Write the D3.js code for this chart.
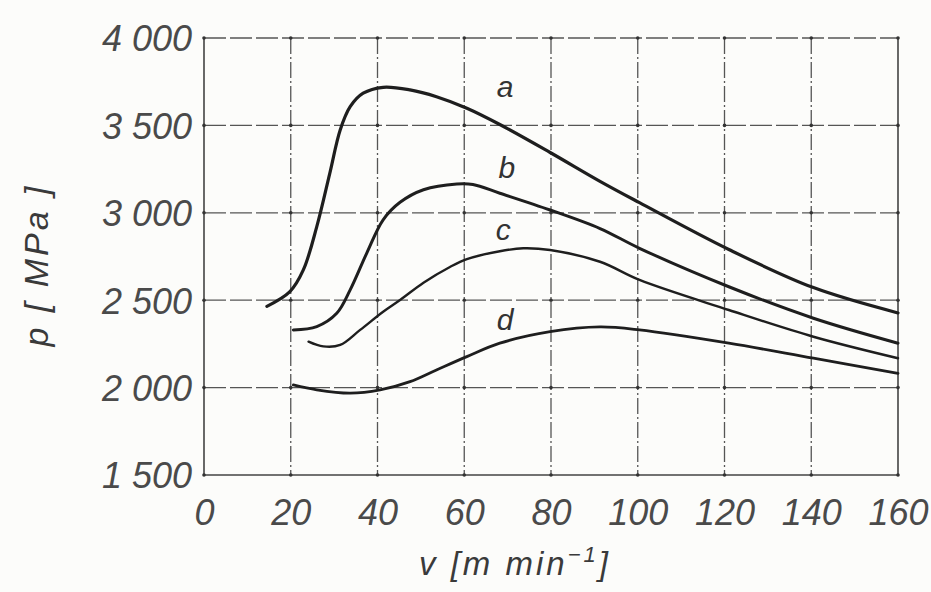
<!DOCTYPE html>
<html>
<head>
<meta charset="utf-8">
<script src="https://cdn.jsdelivr.net/npm/d3@7"></script>
<style>
  body { margin: 0; background: #fcfcfa; }
  svg { display: block; }
  .tick text { font-family: 'Liberation Sans', Arial, sans-serif; font-style: italic; fill: #4a4a4a; }
  .axis-label { font-family: 'Liberation Sans', Arial, sans-serif; font-style: italic; fill: #3a3a3a; }
  .curve-name { font-family: 'Liberation Sans', Arial, sans-serif; font-style: italic; fill: #333; }
</style>
</head>
<body>
<svg width="931" height="592"></svg>
<script>
// cutting speed v [m/min] vs pressure p [MPa], four curves a..d
const xTicks = [0, 20, 40, 60, 80, 100, 120, 140, 160];
const yTicks = [1500, 2000, 2500, 3000, 3500, 4000];
const yTickLabels = ['1 500', '2 000', '2 500', '3 000', '3 500', '4 000'];

const curveNames = ['a', 'b', 'c', 'd'];

const vA = [14.5, 19.8, 22.9, 26, 29, 31.4, 33.7, 36.7, 41.3, 47.5, 53.6, 60.6, 68.2, 79.8, 91.3, 100.4, 121, 140.5, 160];
const pA = [2465, 2549, 2673, 2921, 3226, 3474, 3607, 3684, 3718, 3703, 3664, 3598, 3505, 3345, 3180, 3058, 2790, 2572, 2427];

const vB = [20.6, 26, 30.6, 33.7, 37.5, 41.3, 45.2, 50.6, 58.3, 62, 68.2, 79.8, 91.3, 100.4, 121, 140.5, 160];
const pB = [2330, 2349, 2425, 2559, 2768, 2960, 3060, 3132, 3165, 3162, 3112, 3016, 2910, 2797, 2577, 2397, 2254];

const vC = [24.1, 27.5, 31.4, 36, 41.3, 45.2, 50.6, 56.7, 60.6, 68.2, 73.6, 79.8, 91.3, 100.4, 121, 140.5, 160];
const pC = [2263, 2236, 2244, 2330, 2434, 2501, 2600, 2690, 2735, 2780, 2797, 2787, 2720, 2616, 2444, 2291, 2168];

const vD = [20.6, 26, 33.7, 40.6, 47.5, 53.6, 60.6, 68.2, 79.8, 91.3, 100.4, 121, 140.5, 160];
const pD = [2015, 1987, 1968, 1987, 2034, 2101, 2177, 2254, 2320, 2347, 2330, 2254, 2168, 2082];

// where the letters sit, in data units
const labelV = [69.4, 69.8, 69, 69.4];
const labelP = [3720, 3262, 2902, 2387];

const series = [
  { name: 'a', v: vA, p: pA, w: 3.2 },
  { name: 'b', v: vB, p: pB, w: 3 },
  { name: 'c', v: vC, p: pC, w: 2.4 },
  { name: 'd', v: vD, p: pD, w: 2.8 }
];

const svg = d3.select('svg');
const width = +svg.attr('width');
const height = +svg.attr('height');
const margin = { top: 38, right: 33, bottom: 117, left: 204 };
const innerWidth = width - margin.left - margin.right;
const innerHeight = height - margin.top - margin.bottom;

const xScale = d3.scaleLinear().domain([0, 160]).range([0, innerWidth]);
const yScale = d3.scaleLinear().domain([1500, 4000]).range([innerHeight, 0]);

const g = svg.append('g')
  .attr('transform', `translate(${margin.left},${margin.top})`);

// grid, dashed like the printed one
const gridColor = '#555';
g.append('g').selectAll('line').data(xTicks.slice(1, -1))
  .enter().append('line')
  .attr('x1', d => xScale(d)).attr('x2', d => xScale(d))
  .attr('y1', 0).attr('y2', innerHeight)
  .attr('stroke', gridColor).attr('stroke-width', 1.3)
  .attr('stroke-dasharray', '16,3,2,3');

g.append('g').selectAll('line').data(yTicks.slice(1, -1))
  .enter().append('line')
  .attr('x1', 0).attr('x2', innerWidth)
  .attr('y1', d => yScale(d)).attr('y2', d => yScale(d))
  .attr('stroke', gridColor).attr('stroke-width', 1.3)
  .attr('stroke-dasharray', '22,4');

// frame: top dashed, others solid
g.append('line')
  .attr('x1', 0).attr('x2', innerWidth).attr('y1', 0).attr('y2', 0)
  .attr('stroke', gridColor).attr('stroke-width', 1.3)
  .attr('stroke-dasharray', '22,4');
g.append('path')
  .attr('d', `M0,0V${innerHeight}H${innerWidth}V0`)
  .attr('fill', 'none').attr('stroke', '#444').attr('stroke-width', 1.6);

// little dots where the grid lines cross
const crossings = [];
xTicks.forEach(x => yTicks.forEach(y => crossings.push([x, y])));
g.append('g').selectAll('circle').data(crossings)
  .enter().append('circle')
  .attr('cx', d => xScale(d[0])).attr('cy', d => yScale(d[1]))
  .attr('r', 1.8).attr('fill', '#333');

// axes (labels only)
const xAxisG = g.append('g')
  .attr('transform', `translate(0,${innerHeight})`)
  .call(d3.axisBottom(xScale).tickValues(xTicks).tickSize(0).tickPadding(24));
xAxisG.select('.domain').remove();
xAxisG.selectAll('text').style('font-size', '36px');

const yAxisG = g.append('g')
  .call(d3.axisLeft(yScale).tickValues(yTicks)
    .tickFormat((d, i) => yTickLabels[i]).tickSize(0).tickPadding(12));
yAxisG.select('.domain').remove();
yAxisG.selectAll('text').style('font-size', '36px').attr('dy', '0.36em');

// curves
const line = d3.line()
  .x(d => xScale(d[0]))
  .y(d => yScale(d[1]))
  .curve(d3.curveCatmullRom.alpha(0.5));

g.selectAll('.curve').data(series)
  .enter().append('path')
  .attr('class', 'curve')
  .attr('d', s => line(s.v.map((v, i) => [v, s.p[i]])))
  .attr('fill', 'none')
  .attr('stroke', '#1e1e1e')
  .attr('stroke-width', s => s.w)
  .attr('stroke-linecap', 'round');

g.selectAll('.curve-name').data(curveNames)
  .enter().append('text')
  .attr('class', 'curve-name')
  .attr('x', (d, i) => xScale(labelV[i]))
  .attr('y', (d, i) => yScale(labelP[i]))
  .attr('dy', '0.35em')
  .attr('text-anchor', 'middle')
  .style('font-size', '30px')
  .text(d => d);

// axis titles
const xTitle = svg.append('text')
  .attr('class', 'axis-label')
  .attr('x', 515)
  .attr('y', 575)
  .attr('text-anchor', 'middle')
  .style('font-size', '33px')
  .style('letter-spacing', '3px');
xTitle.append('tspan').text('v [m min');
xTitle.append('tspan').attr('dy', -13).style('font-size', '22px').text('−1');
xTitle.append('tspan').attr('dy', 13).text(']');

svg.append('text')
  .attr('class', 'axis-label')
  .attr('transform', 'translate(48,265) rotate(-90)')
  .attr('text-anchor', 'middle')
  .style('font-size', '34px')
  .style('letter-spacing', '3px')
  .text('p [ MPa ]');
</script>
</body>
</html>
